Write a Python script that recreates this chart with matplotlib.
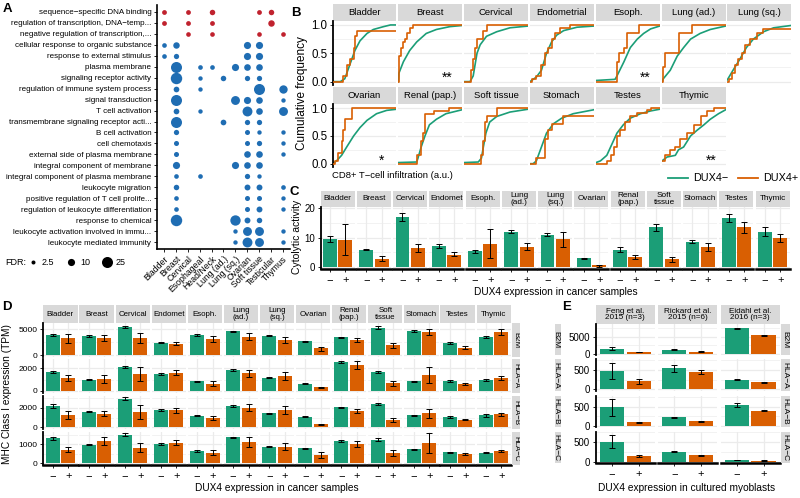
import matplotlib
matplotlib.use("Agg")
import matplotlib.pyplot as plt

plt.rcParams["font.family"] = ["Liberation Sans", "DejaVu Sans"]
plt.rcParams["axes.unicode_minus"] = True

GREEN = "#1b9e77"
ORANGE = "#d95f02"
RED = "#c0222e"
BLUE = "#1f6db3"
STRIP = "#d9d9d9"
GRID = "#ebebeb"
W, H = 800, 498

# ---------------- panel A: GO term enrichment (-log10 FDR) ----------------
a_terms = [
    "sequence\u2212specific DNA binding",
    "regulation of transcription, DNA\u2212temp...",
    "negative regulation of transcription,...",
    "cellular response to organic substance",
    "response to external stimulus",
    "plasma membrane",
    "signaling receptor activity",
    "regulation of immune system process",
    "signal transduction",
    "T cell activation",
    "transmembrane signaling receptor acti...",
    "B cell activation",
    "cell chemotaxis",
    "external side of plasma membrane",
    "integral component of membrane",
    "integral component of plasma membrane",
    "leukocyte migration",
    "positive regulation of T cell prolife...",
    "regulation of leukocyte differentiation",
    "response to chemical",
    "leukocyte activation involved in immu...",
    "leukocyte mediated immunity",
]
a_cancers = ["Bladder", "Breast", "Cervical", "Esophageal", "Head/Neck", "Lung (ad.)",
             "Lung (sq.)", "Ovarian", "Soft tissue", "Testicular", "Thymus"]
a_up_terms = a_terms[:3]
a_fdr = [
    {"Bladder": 4, "Cervical": 4, "Head/Neck": 5.5, "Soft tissue": 4, "Testicular": 5.5},
    {"Bladder": 4, "Cervical": 4, "Head/Neck": 4, "Testicular": 8},
    {"Cervical": 3.7, "Head/Neck": 3.7, "Soft tissue": 3.7, "Thymus": 3.7},
    {"Bladder": 3.7, "Breast": 8, "Ovarian": 10, "Soft tissue": 10},
    {"Bladder": 3.7, "Breast": 5, "Ovarian": 10, "Soft tissue": 10},
    {"Breast": 25, "Esophageal": 3.7, "Head/Neck": 3.7, "Lung (sq.)": 10, "Ovarian": 8.5, "Soft tissue": 8.5},
    {"Breast": 27, "Esophageal": 3.2, "Lung (ad.)": 5.5, "Ovarian": 5, "Soft tissue": 5},
    {"Breast": 6, "Esophageal": 3.2, "Soft tissue": 25, "Thymus": 14},
    {"Breast": 25, "Lung (sq.)": 16, "Ovarian": 10, "Soft tissue": 8.5, "Thymus": 3.2},
    {"Breast": 6, "Esophageal": 3.2, "Ovarian": 20, "Soft tissue": 8.5, "Thymus": 16},
    {"Breast": 25, "Lung (ad.)": 6, "Ovarian": 5, "Soft tissue": 5},
    {"Breast": 5, "Ovarian": 4.5, "Soft tissue": 3.2, "Thymus": 3.2},
    {"Breast": 4.5, "Ovarian": 4.5, "Soft tissue": 5, "Thymus": 3.2},
    {"Breast": 4.5, "Ovarian": 8.5, "Soft tissue": 8.5, "Thymus": 3.2},
    {"Breast": 10, "Lung (sq.)": 10, "Ovarian": 8.5, "Soft tissue": 8.5},
    {"Breast": 3.7, "Esophageal": 3.7, "Ovarian": 5, "Soft tissue": 3.2},
    {"Breast": 5.5, "Ovarian": 6.5, "Soft tissue": 6.5, "Thymus": 3.7},
    {"Breast": 3.7, "Ovarian": 4.5, "Soft tissue": 4.5, "Thymus": 3.2},
    {"Breast": 3.7, "Ovarian": 4.5, "Soft tissue": 6.5, "Thymus": 3.2},
    {"Breast": 27, "Lung (sq.)": 22, "Ovarian": 6.5, "Soft tissue": 5.5},
    {"Lung (sq.)": 3.2, "Ovarian": 16, "Soft tissue": 16, "Thymus": 3.2},
    {"Lung (sq.)": 3.2, "Ovarian": 20, "Soft tissue": 16, "Thymus": 3.2},
]
a_legend_fdr = [2.5, 10, 25]

# ---------------- panel B: CD8+ infiltration ECDFs ----------------
b_tissues = ["Bladder", "Breast", "Cervical", "Endometrial", "Esoph.", "Lung (ad.)", "Lung (sq.)",
             "Ovarian", "Renal (pap.)", "Soft tissue", "Stomach", "Testes", "Thymic"]
b_neg_x = [
    [0, 0.12, 0.19, 0.27, 0.35, 0.43, 0.54, 0.64, 0.8, 0.91, 1.0],
    [0, 0.01, 0.08, 0.18, 0.29, 0.44, 0.6, 0.81, 1.0],
    [0, 0.09, 0.14, 0.17, 0.2, 0.25, 0.35, 0.51, 0.72, 1.0],
    [0, 0.1, 0.18, 0.26, 0.34, 0.42, 0.53, 0.74, 1.0],
    [0, 0.3, 0.33, 0.44, 0.54, 0.65, 0.75, 0.86, 1.0],
    [0, 0.02, 0.13, 0.24, 0.34, 0.45, 0.6, 0.76, 1.0],
    [0, 0.09, 0.2, 0.3, 0.41, 0.57, 0.73, 1.0],
    [0, 0.06, 0.14, 0.22, 0.33, 0.43, 0.54, 0.69, 0.85, 1.0],
    [0, 0.29, 0.31, 0.36, 0.42, 0.49, 0.6, 0.75, 1.0],
    [0, 0.22, 0.27, 0.3, 0.34, 0.4, 0.51, 0.72, 1.0],
    [0, 0.05, 0.1, 0.18, 0.26, 0.37, 0.5, 0.68, 1.0],
    [0, 0.07, 0.17, 0.25, 0.33, 0.43, 0.54, 0.7, 0.86, 1.0],
    [0, 0.08, 0.21, 0.26, 0.34, 0.45, 0.55, 0.66, 0.76, 0.89, 1.0],
]
b_neg_y = [
    [0, 0.0, 0.05, 0.3, 0.55, 0.72, 0.85, 0.92, 0.97, 1.0, 1.0],
    [0, 0.15, 0.35, 0.55, 0.7, 0.85, 0.92, 0.97, 0.99],
    [0, 0.0, 0.1, 0.3, 0.5, 0.65, 0.8, 0.88, 0.95, 0.98],
    [0, 0.08, 0.2, 0.5, 0.7, 0.82, 0.9, 0.96, 0.98],
    [0.02, 0.04, 0.1, 0.35, 0.6, 0.75, 0.85, 0.93, 0.98],
    [0, 0.05, 0.2, 0.45, 0.6, 0.75, 0.85, 0.92, 0.98],
    [0.03, 0.2, 0.4, 0.6, 0.75, 0.88, 0.95, 0.99],
    [0, 0.05, 0.15, 0.3, 0.5, 0.65, 0.78, 0.9, 0.96, 0.98],
    [0.02, 0.03, 0.1, 0.3, 0.5, 0.7, 0.8, 0.9, 0.97],
    [0.02, 0.03, 0.1, 0.3, 0.55, 0.75, 0.85, 0.93, 0.98],
    [0, 0.0, 0.05, 0.3, 0.55, 0.72, 0.82, 0.9, 0.97],
    [0.02, 0.05, 0.15, 0.35, 0.55, 0.7, 0.82, 0.9, 0.95, 0.98],
    [0.05, 0.12, 0.15, 0.25, 0.3, 0.5, 0.6, 0.7, 0.8, 0.9, 0.97],
]
b_pos_x = [
    [0, 0.17, 0.22, 0.27, 0.33, 0.35, 0.39, 1.0],
    [0, 0.01, 0.05, 0.08, 0.11, 0.13, 0.18, 0.23, 1.0],
    [0, 0.1, 0.14, 0.17, 0.2, 0.3, 0.35, 1.0],
    [0, 0.03, 0.1, 0.18, 0.24, 0.29, 0.34, 0.39, 0.47, 0.63, 1.0],
    [0, 0.33, 0.36, 0.44, 0.49, 0.67, 1.0],
    [0, 0.02, 0.05, 0.26, 0.47, 1.0],
    [0, 0.02, 0.07, 0.12, 0.17, 0.23, 0.28, 0.36, 0.46, 0.57, 1.0],
    [0, 0.04, 0.09, 0.14, 0.17, 0.2, 0.31, 1.0],
    [0, 0.29, 0.35, 0.39, 0.42, 0.57, 0.8, 1.0],
    [0, 0.26, 0.29, 0.33, 0.35, 0.52, 1.0],
    [0, 0.1, 0.24, 0.29, 0.34, 0.52, 1.0],
    [0, 0.17, 0.23, 0.28, 0.33, 0.38, 0.46, 0.54, 0.65, 0.8, 0.86, 1.0],
    [0, 0.05, 0.13, 0.21, 0.29, 0.39, 0.5, 0.61, 0.71, 0.82, 1.0],
]
b_pos_y = [
    [0, 0.1, 0.3, 0.4, 0.6, 0.8, 0.9, 0.9],
    [0, 0.45, 0.6, 0.7, 0.75, 0.85, 0.95, 1.0, 1.0],
    [0, 0.2, 0.4, 0.6, 0.75, 0.9, 1.0, 1.0],
    [0, 0.05, 0.1, 0.3, 0.5, 0.6, 0.75, 0.85, 0.95, 1.0, 1.0],
    [0, 0.35, 0.5, 0.6, 0.85, 1.0, 1.0],
    [0, 0.25, 0.5, 0.85, 1.0, 1.0],
    [0, 0.05, 0.15, 0.3, 0.4, 0.5, 0.65, 0.75, 0.85, 0.92, 0.92],
    [0, 0.05, 0.2, 0.4, 0.6, 0.8, 1.0, 1.0],
    [0, 0.15, 0.4, 0.55, 0.9, 0.95, 1.0, 1.0],
    [0, 0.15, 0.4, 0.75, 0.85, 1.0, 1.0],
    [0, 0.1, 0.45, 0.6, 0.72, 0.86, 0.86],
    [0, 0.05, 0.15, 0.3, 0.5, 0.6, 0.75, 0.85, 0.92, 0.97, 1.0, 1.0],
    [0.05, 0.15, 0.25, 0.3, 0.45, 0.55, 0.7, 0.85, 0.95, 1.0, 1.0],
]
b_stars = {"Breast": "**", "Esoph.": "**", "Ovarian": "*", "Thymic": "**"}

# ---------------- panel C: cytolytic activity ----------------
c_tissues = ["Bladder", "Breast", "Cervical", "Endomet", "Esoph.", "Lung\n(ad.)", "Lung\n(sq.)",
             "Ovarian", "Renal\n(pap.)", "Soft\ntissue", "Stomach", "Testes", "Thymic"]
c_neg = [9.5, 6.0, 17.0, 7.2, 5.4, 12.0, 11.0, 3.0, 6.0, 13.5, 8.7, 16.6, 12.0]
c_neg_lo = [8.7, 5.8, 15.8, 6.6, 4.8, 11.5, 10.5, 2.9, 5.0, 12.3, 8.2, 15.4, 10.6]
c_neg_hi = [10.5, 6.2, 18.3, 7.8, 6.0, 12.6, 11.6, 3.2, 7.0, 14.7, 9.2, 18.0, 13.6]
c_pos = [9.3, 2.8, 6.4, 4.3, 8.0, 7.0, 9.5, 0.6, 3.4, 2.7, 6.8, 13.5, 10.0]
c_pos_lo = [4.0, 2.0, 5.2, 3.7, 3.0, 5.8, 7.0, 0.2, 2.7, 1.9, 5.4, 11.7, 8.7]
c_pos_hi = [14.5, 3.7, 7.8, 5.0, 13.0, 8.2, 12.0, 0.9, 4.1, 3.6, 8.3, 15.3, 11.4]

# ---------------- panel D: MHC class I in cancer samples (TPM) ----------------
genes = ["B2M", "HLA\u2212A", "HLA\u2212B", "HLA\u2212C"]
d_neg = {
    "B2M": [3900, 3700, 5500, 2400, 3900, 4650, 3750, 2700, 3450, 5350, 4700, 2250, 3500],
    "HLA\u2212A": [1680, 1000, 2100, 1500, 870, 1850, 1150, 640, 2560, 1640, 850, 880, 980],
    "HLA\u2212B": [2170, 1590, 2920, 1760, 1200, 2170, 1420, 1080, 2030, 2350, 1250, 1030, 1250],
    "HLA\u2212C": [1300, 970, 1500, 1020, 650, 1350, 860, 780, 1170, 1230, 730, 570, 560],
}
d_neg_lo = {
    "B2M": [3750, 3600, 5300, 2330, 3750, 4550, 3650, 2620, 3300, 5150, 4550, 2050, 3300],
    "HLA\u2212A": [1600, 970, 2020, 1450, 820, 1800, 1110, 610, 2460, 1560, 820, 820, 880],
    "HLA\u2212B": [1980, 1550, 2790, 1690, 1130, 2100, 1370, 1040, 1950, 2230, 1200, 950, 1100],
    "HLA\u2212C": [1230, 950, 1420, 980, 620, 1320, 830, 740, 1110, 1160, 700, 520, 520],
}
d_neg_hi = {
    "B2M": [4050, 3800, 5700, 2470, 4050, 4750, 3850, 2780, 3600, 5550, 4850, 2450, 3700],
    "HLA\u2212A": [1760, 1030, 2190, 1560, 920, 1900, 1200, 680, 2660, 1720, 880, 940, 1080],
    "HLA\u2212B": [2360, 1630, 3050, 1830, 1270, 2240, 1470, 1120, 2120, 2480, 1300, 1110, 1400],
    "HLA\u2212C": [1380, 990, 1580, 1060, 690, 1380, 890, 820, 1230, 1300, 760, 620, 600],
}
d_pos = {
    "B2M": [3250, 3300, 3250, 2200, 3100, 3550, 2950, 1300, 2850, 1900, 4450, 1450, 4400],
    "HLA\u2212A": [1120, 1090, 1500, 1620, 640, 1550, 1320, 320, 2260, 700, 1380, 620, 1120],
    "HLA\u2212B": [1250, 1400, 1590, 1760, 950, 2000, 1760, 300, 1680, 750, 1420, 780, 1320],
    "HLA\u2212C": [700, 1150, 800, 1070, 560, 1100, 880, 440, 1000, 520, 1070, 480, 650],
}
d_pos_lo = {
    "B2M": [2300, 2700, 2300, 1850, 2500, 2950, 2300, 850, 2500, 1450, 3950, 1200, 3900],
    "HLA\u2212A": [850, 730, 900, 1420, 420, 1240, 1000, 260, 1900, 480, 680, 560, 960],
    "HLA\u2212B": [850, 1130, 900, 1500, 760, 1680, 1400, 240, 1460, 560, 1000, 720, 1150],
    "HLA\u2212C": [580, 950, 570, 950, 420, 850, 720, 280, 850, 380, 550, 440, 580],
}
d_pos_hi = {
    "B2M": [4100, 3950, 4200, 2600, 3750, 4200, 3600, 1650, 3250, 2350, 5000, 1700, 5000],
    "HLA\u2212A": [1380, 1450, 2100, 1820, 860, 1860, 1650, 390, 2620, 920, 2080, 690, 1280],
    "HLA\u2212B": [1650, 1680, 2300, 2020, 1150, 2330, 2150, 360, 1900, 940, 1880, 840, 1490],
    "HLA\u2212C": [850, 1400, 1050, 1200, 720, 1380, 1050, 620, 1150, 680, 1600, 520, 720],
}
d_ticks = {"B2M": [0, 5000], "HLA\u2212A": [0, 2000], "HLA\u2212B": [0, 2000], "HLA\u2212C": [0, 1000]}

# ---------------- panel E: MHC class I in cultured myoblasts ----------------
e_studies = ["Feng et al.\n2015 (n=3)", "Rickard et al.\n2015 (n=6)", "Eidahl et al.\n2016 (n=3)"]
e_neg = {"B2M": [1500, 1300, 7500], "HLA\u2212A": [480, 540, 250],
         "HLA\u2212B": [480, 220, 540], "HLA\u2212C": [490, 250, 40]}
e_neg_lo = {"B2M": [1150, 1200, 7400], "HLA\u2212A": [270, 450, 240],
            "HLA\u2212B": [260, 210, 500], "HLA\u2212C": [330, 235, 33]}
e_neg_hi = {"B2M": [1900, 1400, 7600], "HLA\u2212A": [690, 620, 262],
            "HLA\u2212B": [710, 230, 585], "HLA\u2212C": [665, 265, 47]}
e_pos = {"B2M": [500, 700, 5500], "HLA\u2212A": [205, 440, 180],
         "HLA\u2212B": [100, 125, 395], "HLA\u2212C": [150, 155, 25]}
e_pos_lo = {"B2M": [450, 620, 5350], "HLA\u2212A": [140, 400, 175],
            "HLA\u2212B": [85, 115, 388], "HLA\u2212C": [115, 145, 20]}
e_pos_hi = {"B2M": [560, 780, 5650], "HLA\u2212A": [275, 500, 186],
            "HLA\u2212B": [115, 135, 402], "HLA\u2212C": [175, 165, 30]}
e_ticks = {"B2M": [0, 5000], "HLA\u2212A": [0, 500], "HLA\u2212B": [0, 500], "HLA\u2212C": [0, 500]}

fig = plt.figure(figsize=(W / 100, H / 100), dpi=100)


def add_box(left, top, width, height):
    return fig.add_axes([left / W, 1 - (top + height) / H, width / W, height / H])


def add_strip(left, top, width, height, label, size, rotation=0, tx=0.5):
    ax = add_box(left, top, width, height)
    ax.set_facecolor(STRIP)
    ax.set_xticks([])
    ax.set_yticks([])
    for sp in ax.spines.values():
        sp.set_visible(False)
    ax.text(tx, 0.5, label, transform=ax.transAxes, ha="center", va="center",
            fontsize=size, rotation=rotation, linespacing=0.95, clip_on=True)
    return ax


def plain(ax):
    for sp in ax.spines.values():
        sp.set_visible(False)
    ax.tick_params(length=0)
    ax.set_xticks([])
    ax.set_yticks([])


def size_of(v):
    # ggplot-like area scale, in points^2
    return 0.52 * (4.3 + 4.67 * v)


def bar_panel(ax, neg, neg_lo, neg_hi, pos, pos_lo, pos_hi, ylim, ticks, first, bottom, ylab_size):
    plain(ax)
    for x in (1, 2):
        ax.axvline(x, color=GRID, lw=0.9, zorder=0)
    step = ticks[1] - ticks[0]
    y = 0.0
    while y <= ylim[1]:
        ax.axhline(y, color=GRID, lw=0.9, zorder=0)
        ax.axhline(y + step / 2, color=GRID, lw=0.45, zorder=0)
        y += step
    ax.bar([1, 2], [neg, pos], width=0.9, color=[GREEN, ORANGE], zorder=2)
    ax.errorbar([1, 2], [neg, pos], yerr=[[neg - neg_lo, pos - pos_lo], [neg_hi - neg, pos_hi - pos]],
                fmt="none", ecolor="black", elinewidth=0.7, capsize=2.2, capthick=0.7, zorder=3)
    ax.set_xlim(0.4, 2.6)
    ax.set_ylim(*ylim)
    if first:
        ax.spines["left"].set_visible(True)
        ax.spines["left"].set_linewidth(1.3)
        ax.set_yticks(ticks)
        ax.set_yticklabels([str(t) for t in ticks])
        ax.tick_params(axis="y", length=2.5, width=0.6, pad=1.5, labelsize=ylab_size)
    if bottom:
        ax.spines["bottom"].set_visible(True)
        ax.spines["bottom"].set_linewidth(1.8)
        ax.set_xticks([1, 2])
        ax.set_xticklabels(["\u2212", "+"])
        ax.tick_params(axis="x", length=2.5, width=0.6, pad=2, labelsize=8)


# ---------------- draw panel A ----------------
axA = add_box(156.9, 5.1, 133.1, 243.8)
for i, row in enumerate(a_fdr):
    col = RED if a_terms[i] in a_up_terms else BLUE
    for cancer, v in row.items():
        axA.scatter(a_cancers.index(cancer) + 1, i + 1, s=size_of(v), color=col, linewidths=0, zorder=3)
axA.set_xlim(0.4, 11.6)
axA.set_ylim(22.6, 0.4)
axA.set_yticks(range(1, 23))
axA.set_yticklabels(a_terms, fontsize=5.75)
axA.set_xticks(range(1, 12))
axA.set_xticklabels(a_cancers, fontsize=6.3, rotation=45, ha="right", va="top", rotation_mode="anchor")
axA.spines["top"].set_visible(False)
axA.spines["right"].set_visible(False)
axA.spines["left"].set_linewidth(1.2)
axA.spines["bottom"].set_linewidth(1.2)
axA.tick_params(length=2.5, width=0.6, pad=1.5)

# ---------------- draw panel B ----------------
b_lefts = [332.7, 398.3, 464.3, 530.0, 596.0, 662.0, 727.3]
b_rows = [(4.0, 20.7, 64.3), (87.0, 104.0, 63.0)]
for k, name in enumerate(b_tissues):
    r, c = divmod(k, 7)
    s_top, p_top, p_h = b_rows[r]
    add_strip(b_lefts[c], s_top, 63.5, p_top - s_top, name, 6.8)
    ax = add_box(b_lefts[c], p_top, 63.5, p_h)
    plain(ax)
    for y in (0, 0.5, 1.0):
        ax.axhline(y, color=GRID, lw=0.9, zorder=0)
    for y in (0.25, 0.75):
        ax.axhline(y, color=GRID, lw=0.45, zorder=0)
    ax.plot(b_neg_x[k], b_neg_y[k], color=GREEN, lw=1.2, zorder=2)
    ax.plot(b_pos_x[k], b_pos_y[k], color=ORANGE, lw=1.2, drawstyle="steps-post", zorder=3)
    ax.set_xlim(0, 1)
    ax.set_ylim(-0.06, 1.075)
    if name in b_stars:
        ax.text(0.77, 0.06, b_stars[name], ha="center", va="center", fontsize=10)
    if c == 0:
        ax.spines["left"].set_visible(True)
        ax.spines["left"].set_linewidth(1.3)
        ax.set_yticks([0, 0.5, 1.0])
        ax.set_yticklabels(["0.0", "0.5", "1.0"])
        ax.tick_params(axis="y", length=2.5, width=0.6, pad=1.5, labelsize=8.3)

# ---------------- draw panel C ----------------
for k, name in enumerate(c_tissues):
    left = 320.7 + k * 36.25
    add_strip(left, 190.7, 34.0, 16.0, name, 5.9)
    ax = add_box(left, 206.7, 34.0, 62.3)
    bar_panel(ax, c_neg[k], c_neg_lo[k], c_neg_hi[k], c_pos[k], c_pos_lo[k], c_pos_hi[k],
              (-0.6, 20.5), [0, 10, 20], k == 0, True, 7)

# ---------------- draw panel D ----------------
d_tops = [323.3, 359.3, 396.0, 431.7]
d_ylims = [(-330, 6170), (-150, 2790), (-200, 3190), (-86, 1650)]
for k, name in enumerate(c_tissues):
    left = 43.3 + k * 36.1
    add_strip(left, 305.0, 34.2, 18.3, name, 5.7)
    for r, g in enumerate(genes):
        ax = add_box(left, d_tops[r], 34.2, 33.4)
        bar_panel(ax, d_neg[g][k], d_neg_lo[g][k], d_neg_hi[g][k], d_pos[g][k], d_pos_lo[g][k],
                  d_pos_hi[g][k], d_ylims[r], d_ticks[g], k == 0, r == 3, 6)
for r, g in enumerate(genes):
    add_strip(511.7, d_tops[r], 8.3, 33.4, g, 5.7, rotation=270)

# ---------------- draw panel E ----------------
e_tops = [324.0, 359.3, 396.0, 431.7]
e_ylims = [(-420, 8800), (-37, 777), (-37, 777), (-37, 750)]
for j, name in enumerate(e_studies):
    left = 595.7 + j * 62.4
    add_strip(left, 305.0, 59.2, 19.0, name, 5.9)
    for r, g in enumerate(genes):
        ax = add_box(left, e_tops[r], 59.2, 31.4)
        bar_panel(ax, e_neg[g][j], e_neg_lo[g][j], e_neg_hi[g][j], e_pos[g][j], e_pos_lo[g][j],
                  e_pos_hi[g][j], e_ylims[r], e_ticks[g], j == 0, r == 3, 7)
for r, g in enumerate(genes):
    add_strip(781.0, e_tops[r], 8.6, 31.4, g, 6, rotation=270)
    add_strip(555.0, e_tops[r], 6.0, 31.4, g, 6, rotation=270, tx=0.15)

# ---------------- overlay texts ----------------
ov = fig.add_axes([0, 0, 1, 1])
ov.set_xlim(0, W)
ov.set_ylim(H, 0)
ov.axis("off")
for letter, x, y in [("A", 3, 3), ("B", 291, 7), ("C", 290, 186), ("D", 2, 301), ("E", 562, 301)]:
    ov.text(x, y, letter, fontsize=9.5, fontweight="bold", ha="left", va="top")

# panel A legend
ov.text(5, 262, "FDR:", fontsize=6.5, va="center")
for v, x in zip(a_legend_fdr, [33, 71, 107]):
    ov.scatter(x, 262, s=size_of(v), color="black", linewidths=0)
    ov.text(x + 9, 262, f"{v:g}", fontsize=6.5, va="center")

# panel B labels and legend
ov.text(302, 93, "Cumulative frequency", rotation=90, ha="center", va="center", fontsize=8.5)
ov.text(332, 175, "CD8+ T\u2212cell infiltration (a.u.)", ha="left", va="center", fontsize=6.8)
ov.plot([668, 688], [178, 178], color=GREEN, lw=1.3)
ov.text(693, 178, "DUX4\u2212", va="center", fontsize=7.8)
ov.plot([738, 758], [178, 178], color=ORANGE, lw=1.3)
ov.text(763, 178, "DUX4+", va="center", fontsize=7.8)

# panel C labels
ov.text(297, 237, "Cytolytic activity", rotation=90, ha="center", va="center", fontsize=7.5)
ov.text(556, 291.5, "DUX4 expression in cancer samples", ha="center", va="center", fontsize=7.3)

# panel D/E labels
ov.text(7, 394, "MHC Class I expression (TPM)", rotation=90, ha="center", va="center", fontsize=7.3)
ov.text(276.7, 488, "DUX4 expression in cancer samples", ha="center", va="center", fontsize=7.3)
ov.text(687, 488, "DUX4 expression in cultured myoblasts", ha="center", va="center", fontsize=7.3)

fig.savefig("out.png", dpi=100)
